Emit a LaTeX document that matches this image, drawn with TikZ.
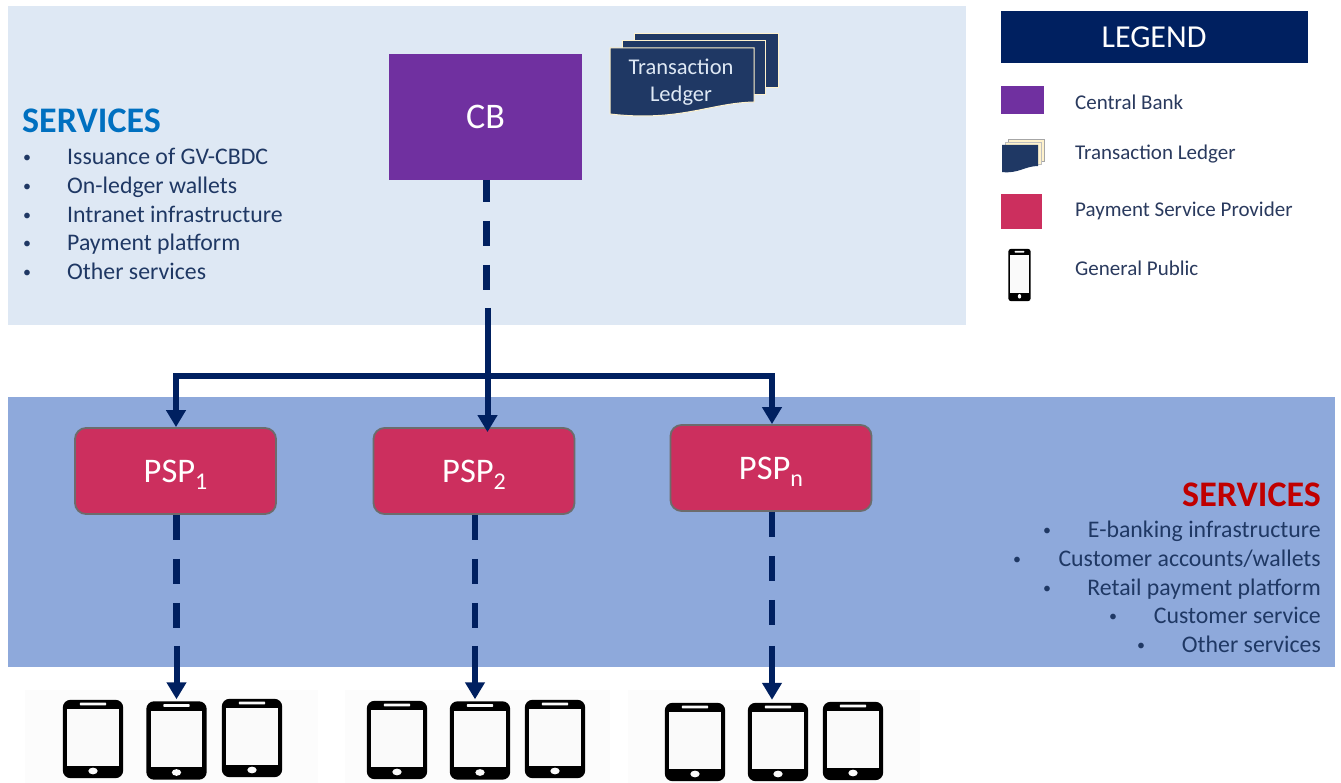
\documentclass[tikz,border=0pt]{standalone}
\usepackage{fontspec}
\setmainfont{Carlito}
\usetikzlibrary{arrows.meta,calc}
\definecolor{navy}{HTML}{002060}
\definecolor{ledger}{HTML}{1F3864}
\definecolor{toppanel}{HTML}{DEE8F4}
\definecolor{midpanel}{HTML}{8EA9DB}
\definecolor{cbcol}{HTML}{7030A0}
\definecolor{pspcol}{HTML}{CC2F5E}
\definecolor{cream}{HTML}{FFF2CC}
\definecolor{legtext}{HTML}{2A3A5E}
\definecolor{bodytext}{HTML}{1F3864}
\definecolor{svcblue}{HTML}{0070C0}
\definecolor{svcred}{HTML}{C00000}
\tikzset{
  x=1pt,y=-1pt,
  psp/.style={draw=gray!85!black,line width=1.8pt,fill=pspcol,rounded corners=11pt,minimum width=201pt,minimum height=86pt,text=white,font=\fontsize{34.5}{36}\selectfont,inner sep=0pt},
  cbbox/.style={fill=cbcol,minimum width=193pt,minimum height=126pt,text=white,font=\fontsize{36}{38}\selectfont,inner sep=0pt},
  solidline/.style={draw=navy,line width=6pt},
  dashline/.style={draw=navy,line width=6.5pt,dash pattern=on 25pt off 19pt},
  arrowline/.style={draw=navy,line width=6pt,-{Triangle[length=17pt,width=19pt]}},
  svchead/.style={font=\fontsize{36}{38}\selectfont\bfseries,inner sep=0pt},
  svcitem/.style={font=\fontsize{23.8}{26}\selectfont,text=bodytext,inner sep=0pt,anchor=base west},
  svcright/.style={font=\fontsize{23.8}{26}\selectfont,text=bodytext,inner sep=0pt,anchor=base east},
  svcbullet/.style={font=\fontsize{16}{18}\selectfont,text=bodytext,inner sep=0pt,anchor=base},
  legitem/.style={font=\fontsize{21}{24}\selectfont,text=legtext,inner sep=0pt,anchor=base west},
  ledgertext/.style={font=\fontsize{22.5}{27}\selectfont,text=toppanel,inner sep=0pt,align=center},
  greybg/.style={fill=black!1.2,draw=none},
  phonenode/.style={inner sep=0pt,draw=none},
}
\newcommand{\pspsub}[1]{\smash{\raisebox{-7pt}{\fontsize{24}{24}\selectfont #1}}}
% \phonepic{name}{cx}{cy}{w}{h}: rounded black body, white screen, speaker and button
\newcommand{\phonepic}[5]{%
  \node[phonenode,minimum width=#4 pt,minimum height=#5 pt] (#1) at (#2,#3) {};
  \fill[black,rounded corners=#4 pt*0.13] (#1.north west) rectangle (#1.south east);
  \fill[black!2] ($(#2,#3)+(-#4*0.433,-#5*0.38)$) rectangle ($(#2,#3)+(#4*0.433,#5*0.342)$);
  \fill[black!2,rounded corners=0.5pt] ($(#2,#3)+(-#4*0.217,-#5*0.465)$) rectangle ($(#2,#3)+(#4*0.217,-#5*0.43)$);
  \fill[black!2] ($(#2,#3)+(0,#5*0.41)$) ellipse[x radius=#4*0.078,y radius=#5*0.043];
}
\begin{document}
\begin{tikzpicture}
\useasboundingbox (0,0) rectangle (1341,783);
\fill[white] (0,0) rectangle (1341,783);
% panels
\fill[toppanel] (8,6) rectangle (966,325);
\fill[midpanel] (8,397) rectangle (1335,667);
\fill[greybg] (25,690) rectangle (318,783);
\fill[greybg] (345,690) rectangle (610,783);
\fill[greybg] (628,690) rectangle (920,783);

% ledger
\filldraw[ledger,draw=cream,line width=1pt] (634,34) rectangle (778,88);
\filldraw[ledger,draw=cream,line width=1pt] (622,41) rectangle (765,95);
\filldraw[ledger,draw=cream,line width=1pt] (610,48) -- (754,48) -- (754,102) .. controls (710,103) and (680,122) .. (610,114) -- cycle;
\node[ledgertext] (ledgerlabel) at (681,82) {Transaction\\Ledger};

% main nodes
\node[cbbox] (cb) at (485.5,117) {\raisebox{-1pt}{CB}};
\node[psp] (p1) at (175.5,471) {PSP\pspsub{1}};
\node[psp] (p2) at (474,471) {PSP\pspsub{2}};
\node[psp] (pn) at (771,468) {PSP\pspsub{n}};

% phones
\foreach \n/\x/\y in {a/93/739,b/176.5/740.5,c/252/738,d/397/740,e/480/740.5,f/555/739,g/695/742,h/778/742,i/853/741}{
  \phonepic{\n}{\x}{\y}{60}{78}
}

% connectors
\coordinate (bus) at (487.5,376);
\coordinate (busl) at (176,376);
\coordinate (busr) at (772,376);
\coordinate (cbdropa) at (486.5,180);
\coordinate (cbdropb) at (486.5,290);
\coordinate (cbdropc) at (487.5,308);
\draw[dashline,dash phase=3pt] (cbdropa) -- (cbdropb);
\draw[solidline] (cbdropc) -- (bus);
\draw[solidline] (busl) -- (busr);
\draw[arrowline] ([yshift=2.75pt]busl) -- (busl |- p1.north);
\draw[arrowline] (bus) -- ($(bus |- p2.north)+(0,5)$);
\draw[arrowline] ([yshift=2.75pt]busr) -- (busr |- pn.north);
\draw[dashline] ($(p1.south)+(1,0)$) -- ++(0,113) ++(0,18) coordinate (d1);
\draw[dashline] ($(p2.south)+(1,0)$) -- ++(0,113) ++(0,18) coordinate (d2);
\draw[dashline] ($(pn.south)+(1,0)$) -- ++(0,116) ++(0,18) coordinate (d3);
\draw[arrowline,shorten >=2pt] (d1) -- (d1 |- b.north);
\draw[arrowline,shorten >=2pt] (d2) -- (d2 |- e.north);
\draw[arrowline,shorten >=3pt] (d3) -- (d3 |- h.north);

% top services
\node[svchead,text=svcblue,anchor=base west] (s1) at (22,133) {SERVICES};
\foreach \t/\y/\n in {Issuance of GV-CBDC/165/a,On-ledger wallets/194/b,Intranet infrastructure/223/c,Payment platform/251/d,Other services/280/e}{
  \node[svcitem] (tl\n) at (67,\y) {\t};
  \node[svcbullet] (tb\n) at (27,\y-2) {•};
}
% bottom services
\node[svchead,text=svcred,anchor=base east] (s2) at (1321,506) {SERVICES};
\foreach \t/\y/\bx/\n in {E-banking infrastructure/537/1047/a,Customer accounts\slash wallets/566/1017/b,Retail payment platform/595/1047/c,Customer service/623/1113/d,Other services/652/1141/e}{
  \node[svcright] (br\n) at (1321,\y) {\t};
  \node[svcbullet] (bb\n) at (\bx,\y-2) {•};
}

% legend
\node[fill=navy,text=white,minimum width=307pt,minimum height=52pt,inner sep=0pt,font=\fontsize{32}{34}\selectfont] (legend) at (1154,37) {LEGEND};
\fill[cbcol] (1001,86) rectangle (1044,114);
\filldraw[cream,draw=black!35,line width=0.4pt] (1008,139) rectangle (1044,161);
\filldraw[cream,draw=black!25,line width=0.4pt] (1005,142) rectangle (1041,164);
\fill[ledger] (1002,145) -- (1038,145) -- (1038,166) .. controls (1025,166) and (1018,174) .. (1002,172) -- cycle;
\fill[pspcol] (1001,194) rectangle (1042,229);
\phonepic{lp}{1019.5}{275}{22}{52}
\node[legitem] (l1) at (1075,110) {Central Bank};
\node[legitem] (l2) at (1075,160) {Transaction Ledger};
\node[legitem] (l3) at (1075,217) {Payment Service Provider};
\node[legitem] (l4) at (1075,276) {General Public};
\end{tikzpicture}
\end{document}
